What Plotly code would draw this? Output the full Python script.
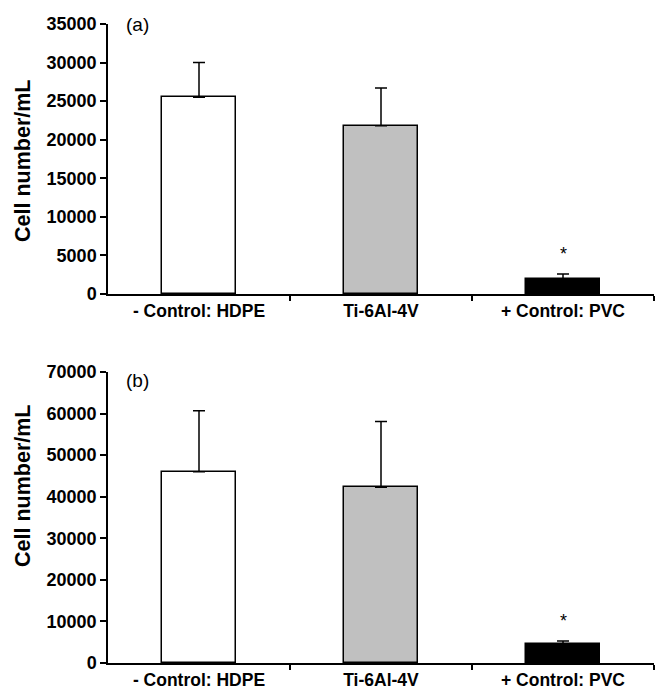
import plotly.graph_objects as go

categories = ["- Control: HDPE", "Ti-6Al-4V", "+ Control: PVC"]
means_a = [25500, 21800, 1950]
errs_a = [4500, 4900, 650]
means_b = [46000, 42300, 4600]
errs_b = [14700, 15800, 700]
yticks_a = [0, 5000, 10000, 15000, 20000, 25000, 30000, 35000]
yticks_b = [0, 10000, 20000, 30000, 40000, 50000, 60000, 70000]
bar_colors = ["#ffffff", "#c0c0c0", "#000000"]
xpos = [0, 1, 2]
y_title = "Cell number/mL"

FAM = "Liberation Sans, Arial, sans-serif"

fig = go.Figure()

for means, errs, xa, ya in [(means_a, errs_a, "x", "y"), (means_b, errs_b, "x2", "y2")]:
    fig.add_trace(go.Bar(
        x=xpos, y=means, width=0.41,
        marker=dict(color=bar_colors, line=dict(color="#000000", width=1.5)),
        error_y=dict(type="data", array=errs, arrayminus=[0, 0, 0], symmetric=False,
                     color="#000000", thickness=1.5, width=6),
        xaxis=xa, yaxis=ya, showlegend=False,
    ))

font_tick = dict(family=FAM, size=18, color="#000000")
font_xtick = dict(family=FAM, size=17.5, color="#000000")
font_title = dict(family=FAM, size=21.5, color="#000000")

def xaxis_cfg(domain_anchor):
    return dict(
        domain=[0, 1], anchor=domain_anchor, range=[-0.5, 2.5],
        tickmode="array", tickvals=xpos, ticktext=["<b>%s</b>" % c for c in categories],
        ticks="", tickfont=font_xtick, showline=True, linecolor="#000000", linewidth=1.5,
        showgrid=False, zeroline=False,
        minor=dict(tickmode="array", tickvals=[0.5, 1.5, 2.5], ticks="outside",
                   ticklen=5, tickwidth=1.5, tickcolor="#000000", showgrid=False),
    )

def yaxis_cfg(domain, rng, tickvals, anchor):
    return dict(
        domain=domain, anchor=anchor, range=rng,
        tickmode="array", tickvals=tickvals, ticktext=["<b>%d</b>" % v for v in tickvals],
        ticks="outside", ticklen=6, tickwidth=1.5, tickcolor="#000000",
        tickfont=font_tick, showline=True, linecolor="#000000", linewidth=1.5,
        showgrid=False, zeroline=False,
    )

fig.update_layout(
    width=658, height=695,
    margin=dict(l=108, r=4, t=24, b=32),
    paper_bgcolor="#ffffff", plot_bgcolor="#ffffff",
    bargap=0,
    xaxis=xaxis_cfg("y"),
    yaxis=yaxis_cfg([0.5775, 1.0], [0, 35000], yticks_a, "x"),
    xaxis2=xaxis_cfg("y2"),
    yaxis2=yaxis_cfg([0.0, 0.4554], [0, 70000], yticks_b, "x2"),
    annotations=[
        dict(text="<b>%s</b>" % y_title, xref="paper", yref="paper", x=-0.1557, y=0.7856,
             textangle=-90, xanchor="center", yanchor="middle", showarrow=False, font=font_title),
        dict(text="<b>%s</b>" % y_title, xref="paper", yref="paper", x=-0.1557, y=0.277,
             textangle=-90, xanchor="center", yanchor="middle", showarrow=False, font=font_title),
        dict(text="(a)", xref="x", yref="y", x=-0.5, y=35000, xshift=16, xanchor="left",
             yanchor="middle", showarrow=False, font=dict(family=FAM, size=19, color="#000000")),
        dict(text="(b)", xref="x2", yref="y2", x=-0.5, y=70000, xshift=16, yshift=-9, xanchor="left",
             yanchor="middle", showarrow=False, font=dict(family=FAM, size=19, color="#000000")),
        dict(text="*", xref="x", yref="y", x=2, y=means_a[2] + errs_a[2], yshift=8,
             xanchor="center", yanchor="bottom", showarrow=False,
             font=dict(family=FAM, size=18, color="#000000")),
        dict(text="*", xref="x2", yref="y2", x=2, y=means_b[2] + errs_b[2], yshift=8,
             xanchor="center", yanchor="bottom", showarrow=False,
             font=dict(family=FAM, size=18, color="#000000")),
    ],
)

fig.write_html("out.html", config={"displayModeBar": False},
               post_script="document.body.style.margin='0';document.body.style.overflow='hidden';")
